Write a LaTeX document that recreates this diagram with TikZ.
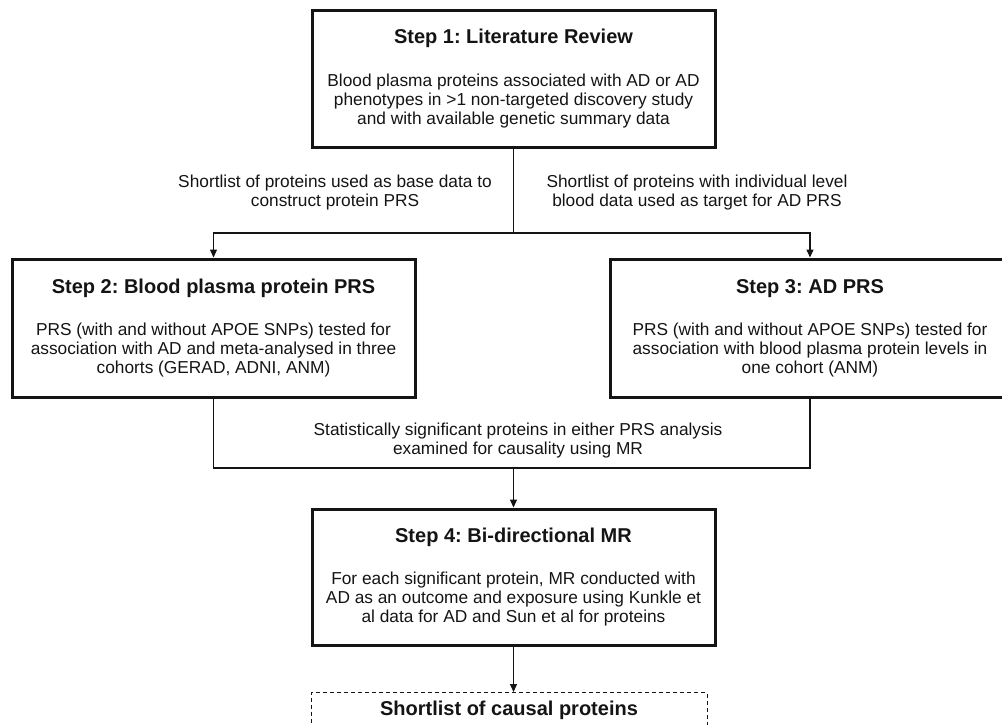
\documentclass[tikz,border=0pt]{standalone}
\usepackage{fontspec}
\setmainfont{Liberation Sans}
\usepackage{xcolor}
\definecolor{ink}{HTML}{141414}
\usetikzlibrary{arrows.meta,positioning}
\newcommand{\steptitle}[1]{{\fontsize{20}{19}\selectfont\bfseries #1}}
\frenchspacing

\begin{document}
\begin{tikzpicture}[x=1pt, y=-1pt, font=\fontsize{17.3}{19}\selectfont, text=ink,
  stepbox/.style={draw=ink, line width=3pt, minimum width=403pt, minimum height=137pt,
                  align=center, inner sep=0pt},
  note/.style={align=center, inner sep=0pt},
  line/.style={draw=ink, line width=1.3pt},
  arr/.style={line, -{Triangle[length=8pt, width=7pt]}}]
\useasboundingbox (0,0) rectangle (1002,724);
\clip (0,0) rectangle (1002,724);
% steps
\node[stepbox] (step1) at (513.5,78.5) {\steptitle{Step 1: Literature Review}\\[24pt]
  Blood plasma proteins associated with AD or AD\\
  phenotypes in >1 non-targeted discovery study\\
  and with available genetic summary data};
\node[stepbox, minimum height=138pt] (step2) at (213.5,328) {\steptitle{Step 2: Blood plasma protein PRS}\\[23pt]
  PRS (with and without APOE SNPs) tested for\\
  association with AD and meta-analysed in three\\
  cohorts (GERAD, ADNI, ANM)};
\node[stepbox, minimum width=400pt, minimum height=138pt] (step3) at (810,328) {\steptitle{Step 3: AD PRS}\\[23pt]
  PRS (with and without APOE SNPs) tested for\\
  association with blood plasma protein levels in\\
  one cohort (ANM)};
\node[stepbox, minimum height=136pt] (step4) at (513.5,577) {\steptitle{Step 4: Bi-directional MR}\\[23pt]
  For each significant protein, MR conducted with\\
  AD as an outcome and exposure using Kunkle et\\
  al data for AD and Sun et al for proteins};
\node[draw=ink, line width=1pt, dash pattern=on 4pt off 3pt, minimum width=396pt,
      minimum height=36pt, anchor=north, inner sep=0pt] (final) at (509,692)
  {\steptitle{Shortlist of causal proteins}};
% labels
\node[note] (baselbl) at (335,193) {Shortlist of proteins used as base data to\\construct protein PRS};
\node[note] (targetlbl) at (697,193) {Shortlist of proteins with individual level\\blood data used as target for AD PRS};
\node[note] (mrlbl) at (518,441) {Statistically significant proteins in either PRS analysis\\examined for causality using MR};
% connectors
\coordinate (split) at (step1.south |- 0,233);
\coordinate (merge) at (step4.north |- 0,468);
\draw[line] (step1.south) -- (split);
\draw[arr] (split) -| (step2.north);
\draw[arr] (split) -| (step3.north);
\draw[line] (step2.south) |- (merge);
\draw[line] (step3.south) |- (merge);
\draw[arr] (merge) -- (step4.north);
\draw[arr] (step4.south) -- (step4.south |- final.north);
\end{tikzpicture}
\end{document}
